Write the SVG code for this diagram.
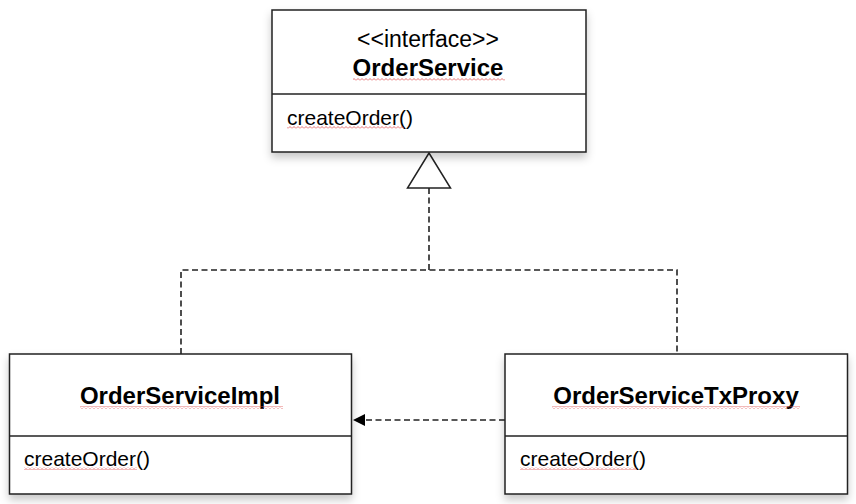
<svg xmlns="http://www.w3.org/2000/svg" width="856" height="504" viewBox="0 0 856 504">
<defs>
<filter id="sh" x="-10%" y="-10%" width="120%" height="130%">
<feDropShadow dx="0" dy="5" stdDeviation="4" flood-color="#000" flood-opacity="0.22"/>
</filter>
<pattern id="wave" width="4" height="3" patternUnits="userSpaceOnUse">
<path d="M0,2.5 L2,0.5 L4,2.5" fill="none" stroke="#e05050" stroke-width="0.8"/>
</pattern>
<marker id="arr" viewBox="0 0 12 12" refX="12" refY="6" markerWidth="12" markerHeight="12" markerUnits="userSpaceOnUse" orient="auto">
<path d="M0,0 L12,6 L0,12 Z" fill="#000"/>
</marker>
</defs>
<style>
.box{fill:#fff;stroke:#222;stroke-width:1.5}
.div{stroke:#222;stroke-width:1.5}
.t{font-family:"Liberation Sans",Arial,sans-serif;fill:#000}
.title{font-size:24px;font-weight:bold;text-anchor:middle}
.st{font-size:23px;text-anchor:middle}
.m{font-size:21px}
.dash{fill:none;stroke:#222;stroke-width:1.6;stroke-dasharray:6 3.5}
.sq{fill:url(#wave)}
</style>
<g id="connectors">
<path class="dash" d="M429,188 V270"/>
<path class="dash" d="M181,354 V270 H677 V354"/>
<path class="dash" d="M505,420 H353" marker-end="url(#arr)"/>
<path d="M429,153 L450.5,188 L407.5,188 Z" fill="#fff" stroke="#222" stroke-width="1.5"/>
</g>
<g id="OrderService">
<rect class="box" x="272" y="10" width="314" height="142" filter="url(#sh)"/>
<line class="div" x1="272" y1="94" x2="586" y2="94"/>
<text class="t st" x="428" y="47">&lt;&lt;interface&gt;&gt;</text>
<text class="t title" x="428" y="76">OrderService</text>
<text class="t m" x="287" y="125">createOrder()</text>
<rect class="sq" x="353" y="78" width="152" height="3"/>
<rect class="sq" x="287" y="126" width="117" height="3"/>
</g>
<g id="OrderServiceImpl">
<rect class="box" x="9.5" y="354" width="342" height="140" filter="url(#sh)"/>
<line class="div" x1="9.5" y1="436" x2="351.5" y2="436"/>
<text class="t title" x="180" y="404">OrderServiceImpl</text>
<text class="t m" x="24" y="466">createOrder()</text>
<rect class="sq" x="80" y="406" width="203" height="3"/>
<rect class="sq" x="24" y="467" width="113" height="3"/>
</g>
<g id="OrderServiceTxProxy">
<rect class="box" x="505" y="354" width="342.5" height="140" filter="url(#sh)"/>
<line class="div" x1="505" y1="436" x2="847.5" y2="436"/>
<text class="t title" x="676" y="404">OrderServiceTxProxy</text>
<text class="t m" x="520" y="466">createOrder()</text>
<rect class="sq" x="552" y="406" width="248" height="3"/>
<rect class="sq" x="520" y="467" width="117" height="3"/>
</g>
</svg>
